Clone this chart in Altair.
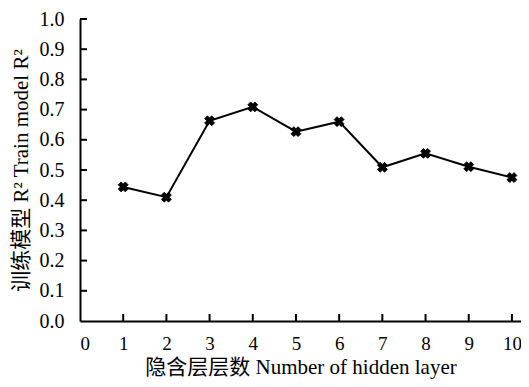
import altair as alt
import pandas as pd

layers = [1, 2, 3, 4, 5, 6, 7, 8, 9, 10]
r2 = [0.444, 0.410, 0.663, 0.709, 0.627, 0.660, 0.509, 0.555, 0.511, 0.475]
x_ticks = [0, 1, 2, 3, 4, 5, 6, 7, 8, 9, 10]
y_ticks = [0.0, 0.1, 0.2, 0.3, 0.4, 0.5, 0.6, 0.7, 0.8, 0.9, 1.0]

x_title = "隐含层层数 Number of hidden layer"
y_title = "训练模型 R² Train model R²"

FONT = "Liberation Serif, Times New Roman, Noto Sans CJK SC"

df = pd.DataFrame({"layer": layers, "r2": r2})
xt = pd.DataFrame({"layer": x_ticks[1:]})
yt = pd.DataFrame({"r2": y_ticks[1:]})

xs = alt.Scale(domain=[0, 10.21], nice=False, zero=False)
ys = alt.Scale(domain=[0, 1], nice=False)

xaxis = alt.Axis(values=x_ticks, format="d", title=x_title, tickSize=0,
                 labelPadding=13, titlePadding=3, domainWidth=2,
                 domainColor="black", grid=False, labelFontSize=19,
                 labelBound=False)
yaxis = alt.Axis(values=y_ticks, format=".1f", title=y_title, tickSize=0,
                 labelPadding=16, titlePadding=8, domainWidth=2,
                 domainColor="black", grid=False)

X = alt.X("layer:Q", scale=xs, axis=xaxis)
Y = alt.Y("r2:Q", scale=ys, axis=yaxis)

base = alt.Chart(df).encode(x=X, y=Y)
line = base.mark_line(color="black", strokeWidth=2)
pts = base.mark_point(shape="cross", filled=True, angle=45, size=100,
                      color="black", stroke="black", strokeWidth=0.8,
                      opacity=1)

xtick = alt.Chart(xt).mark_rule(color="black", strokeWidth=2).encode(
    x=X, y=alt.value(302), y2=alt.value(295))
ytick = alt.Chart(yt).mark_rule(color="black", strokeWidth=2).encode(
    y=Y, x=alt.value(0), x2=alt.value(7))

chart = alt.layer(line, pts, xtick, ytick).properties(
    width=441, height=302,
    autosize=alt.AutoSizeParams(type="none"),
    padding={"left": 72, "top": 11, "right": 0, "bottom": 58},
).configure_view(stroke=None).configure_axis(
    labelFont=FONT, titleFont=FONT, labelFontSize=20, titleFontSize=21,
    labelColor="black", titleColor="black", titleFontWeight="normal",
)

chart.save("out.html", embed_options={"renderer": "svg", "actions": False})
